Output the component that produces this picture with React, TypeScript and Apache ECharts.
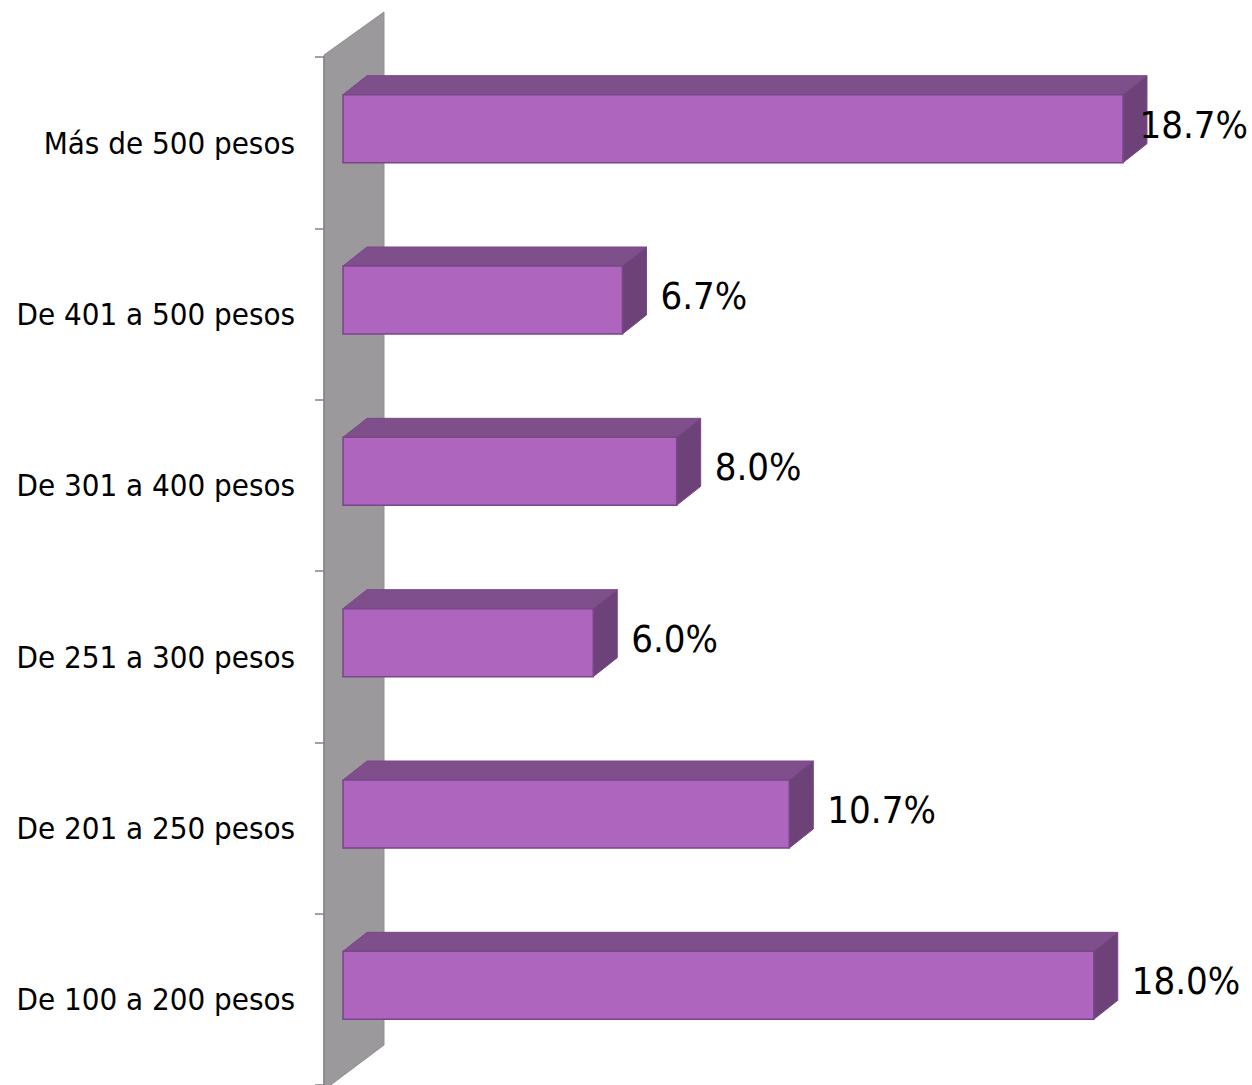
import { useEffect, useRef } from "react";
import * as echarts from "echarts";

const categories = [
  "De 100 a 200 pesos",
  "De 201 a 250 pesos",
  "De 251 a 300 pesos",
  "De 301 a 400 pesos",
  "De 401 a 500 pesos",
  "Más de 500 pesos",
];
const values = [18.0, 10.7, 6.0, 8.0, 6.7, 18.7];
const valueLabels = ["18.0%", "10.7%", "6.0%", "8.0%", "6.7%", "18.7%"];

const FONT = "'DejaVu Sans Condensed', 'DejaVu Sans', sans-serif";
const FRONT = "#ad65bd";
const TOP = "#7f4f8b";
const SIDE = "#6d4279";
const EDGE = "#7a468a";

export default function App() {
  const ref = useRef<HTMLDivElement>(null);
  useEffect(() => {
    document.body.style.margin = "0";
    if (!ref.current) return;
    const chart = echarts.init(ref.current, undefined, { renderer: "svg" });
    const canvas = document.createElement("canvas");
    const ctx = canvas.getContext("2d")!;
    const labelSize = 38;
    ctx.font = `${labelSize}px ${FONT}`;

    const pxPerUnit = 41.71;
    const xMin = -19 / pxPerUnit;
    const xMax = 20;

    const data = values.map((v, i) => [v, i, valueLabels[i]]);

    chart.setOption({
      animation: false,
      textStyle: { fontFamily: FONT },
      grid: { left: 324, top: 57, width: (xMax - xMin) * pxPerUnit, height: 1031 },
      xAxis: { type: "value", min: xMin, max: xMax, show: false },
      yAxis: {
        type: "category",
        data: categories,
        z: 3,
        axisLine: { show: true, onZero: false, lineStyle: { color: "#858285", width: 1.5 } },
        axisTick: { show: true, length: 9, lineStyle: { color: "#858285", width: 1.5 } },
        axisLabel: { color: "#000", fontSize: 31, margin: 29, fontFamily: FONT },
        splitLine: { show: false },
      },
      graphic: [
        {
          type: "polygon",
          z: -10,
          silent: true,
          shape: { points: [[324, 55], [384, 12], [384, 1045], [324, 1090]] },
          style: { fill: "#9c999c", stroke: "#918e91", lineWidth: 1 },
        },
      ],
      series: [
        {
          type: "custom",
          z: 5,
          data,
          encode: { x: 0, y: 1 },
          renderItem: (params: any, api: any) => {
            const v = api.value(0);
            const idx = api.value(1);
            const [x1, cy] = api.coord([v, idx]);
            const [x0] = api.coord([0, idx]);
            const h = 68;
            const top = cy - 48;
            const dx = 24;
            const dy = 19;
            const label = valueLabels[params.dataIndex];
            const tw = ctx.measureText(label).width;
            let tx = x1 + dx + 14;
            const W = api.getWidth();
            if (tx + tw > W - 4) tx = W - 4 - tw;
            return {
              type: "group",
              children: [
                {
                  type: "polygon",
                  shape: { points: [[x0, top], [x0 + dx, top - dy], [x1 + dx, top - dy], [x1, top]] },
                  style: { fill: TOP, stroke: EDGE, lineWidth: 1 },
                },
                {
                  type: "polygon",
                  shape: { points: [[x1, top], [x1 + dx, top - dy], [x1 + dx, top + h - dy], [x1, top + h]] },
                  style: { fill: SIDE, stroke: EDGE, lineWidth: 1 },
                },
                {
                  type: "rect",
                  shape: { x: x0, y: top, width: x1 - x0, height: h },
                  style: { fill: FRONT, stroke: EDGE, lineWidth: 1.5 },
                },
                {
                  type: "text",
                  z2: 10,
                  style: {
                    x: tx,
                    y: cy - 18,
                    text: label,
                    fill: "#000",
                    fontSize: labelSize,
                    fontFamily: FONT,
                    align: "left",
                    verticalAlign: "middle",
                  },
                },
              ],
            };
          },
        },
      ],
    });
    return () => chart.dispose();
  }, []);
  return <div ref={ref} style={{ width: 1252, height: 1085 }} />;
}
